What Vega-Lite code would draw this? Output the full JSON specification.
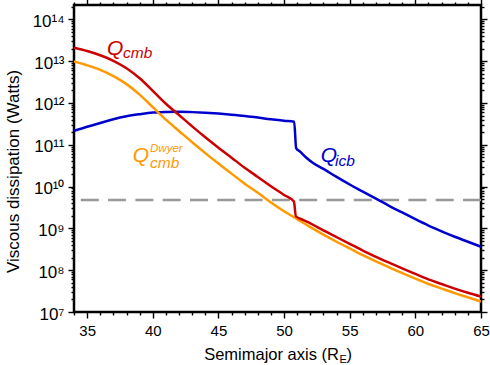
{
  "$schema": "https://vega.github.io/schema/vega-lite/v6.json",
  "width": 407,
  "height": 307,
  "autosize": {"type": "none"},
  "padding": {"left": 74, "top": 5, "right": 9, "bottom": 53},
  "background": "white",
  "config": {
    "view": {"stroke": "black", "strokeWidth": 2.5},
    "font": "Liberation Sans",
    "axis": {
      "domain": false, "grid": false, "tickColor": "black", "tickWidth": 1.4,
      "labelColor": "black", "labelFont": "Liberation Sans", "labelOverlap": false,
      "labelFlush": false, "labelBound": false, "titleFont": "Liberation Sans",
      "titleColor": "black", "titleFontWeight": "normal"
    }
  },
  "datasets": {
    "curves": [
      {"s": "icb", "a": 34, "q": 2.14e11}, {"s": "icb", "a": 35, "q": 2.69e11}, {"s": "icb", "a": 36, "q": 3.31e11},
      {"s": "icb", "a": 37, "q": 4.07e11}, {"s": "icb", "a": 38, "q": 4.79e11}, {"s": "icb", "a": 39, "q": 5.37e11},
      {"s": "icb", "a": 40, "q": 5.89e11}, {"s": "icb", "a": 41, "q": 6.10e11}, {"s": "icb", "a": 42, "q": 6.17e11},
      {"s": "icb", "a": 43, "q": 6.03e11}, {"s": "icb", "a": 44, "q": 5.82e11}, {"s": "icb", "a": 45, "q": 5.56e11},
      {"s": "icb", "a": 46, "q": 5.25e11}, {"s": "icb", "a": 47, "q": 4.90e11}, {"s": "icb", "a": 48, "q": 4.47e11},
      {"s": "icb", "a": 49, "q": 4.07e11}, {"s": "icb", "a": 50, "q": 3.76e11}, {"s": "icb", "a": 50.77, "q": 3.55e11},
      {"s": "icb", "a": 50.92, "q": 8.32e10}, {"s": "icb", "a": 51.22, "q": 6.84e10}, {"s": "icb", "a": 51.7, "q": 4.90e10},
      {"s": "icb", "a": 52.24, "q": 3.61e10}, {"s": "icb", "a": 53, "q": 2.65e10}, {"s": "icb", "a": 54, "q": 1.70e10},
      {"s": "icb", "a": 55, "q": 1.12e10}, {"s": "icb", "a": 56, "q": 7.59e9}, {"s": "icb", "a": 57, "q": 5.13e9},
      {"s": "icb", "a": 58, "q": 3.47e9}, {"s": "icb", "a": 59, "q": 2.40e9}, {"s": "icb", "a": 60, "q": 1.66e9},
      {"s": "icb", "a": 61, "q": 1.17e9}, {"s": "icb", "a": 62, "q": 8.51e8}, {"s": "icb", "a": 63, "q": 6.31e8},
      {"s": "icb", "a": 64, "q": 4.79e8}, {"s": "icb", "a": 65, "q": 3.63e8},

      {"s": "dwyer", "a": 34, "q": 9.77e12}, {"s": "dwyer", "a": 35, "q": 7.94e12}, {"s": "dwyer", "a": 36, "q": 6.17e12},
      {"s": "dwyer", "a": 37, "q": 4.37e12}, {"s": "dwyer", "a": 38, "q": 2.82e12}, {"s": "dwyer", "a": 39, "q": 1.58e12},
      {"s": "dwyer", "a": 40, "q": 7.94e11}, {"s": "dwyer", "a": 41, "q": 3.98e11}, {"s": "dwyer", "a": 42, "q": 2.14e11},
      {"s": "dwyer", "a": 43, "q": 1.15e11}, {"s": "dwyer", "a": 44, "q": 6.31e10}, {"s": "dwyer", "a": 45, "q": 3.55e10},
      {"s": "dwyer", "a": 46, "q": 2.04e10}, {"s": "dwyer", "a": 47, "q": 1.17e10}, {"s": "dwyer", "a": 48, "q": 7.08e9},
      {"s": "dwyer", "a": 49, "q": 4.17e9}, {"s": "dwyer", "a": 50, "q": 2.57e9}, {"s": "dwyer", "a": 51, "q": 1.66e9},
      {"s": "dwyer", "a": 52, "q": 1.07e9}, {"s": "dwyer", "a": 53, "q": 7.08e8}, {"s": "dwyer", "a": 54, "q": 4.79e8},
      {"s": "dwyer", "a": 55, "q": 3.31e8}, {"s": "dwyer", "a": 56, "q": 2.29e8}, {"s": "dwyer", "a": 57, "q": 1.62e8},
      {"s": "dwyer", "a": 58, "q": 1.17e8}, {"s": "dwyer", "a": 59, "q": 8.51e7}, {"s": "dwyer", "a": 60, "q": 6.31e7},
      {"s": "dwyer", "a": 61, "q": 4.68e7}, {"s": "dwyer", "a": 62, "q": 3.63e7}, {"s": "dwyer", "a": 63, "q": 2.82e7},
      {"s": "dwyer", "a": 64, "q": 2.24e7}, {"s": "dwyer", "a": 65, "q": 1.78e7},

      {"s": "cmb", "a": 34, "q": 2.09e13}, {"s": "cmb", "a": 35, "q": 1.74e13}, {"s": "cmb", "a": 36, "q": 1.38e13},
      {"s": "cmb", "a": 37, "q": 1.02e13}, {"s": "cmb", "a": 38, "q": 6.76e12}, {"s": "cmb", "a": 39, "q": 3.89e12},
      {"s": "cmb", "a": 40, "q": 1.95e12}, {"s": "cmb", "a": 41, "q": 9.55e11}, {"s": "cmb", "a": 42, "q": 5.13e11},
      {"s": "cmb", "a": 43, "q": 2.75e11}, {"s": "cmb", "a": 44, "q": 1.51e11}, {"s": "cmb", "a": 45, "q": 8.51e10},
      {"s": "cmb", "a": 46, "q": 4.90e10}, {"s": "cmb", "a": 47, "q": 2.82e10}, {"s": "cmb", "a": 48, "q": 1.70e10},
      {"s": "cmb", "a": 49, "q": 1.02e10}, {"s": "cmb", "a": 50, "q": 6.31e9}, {"s": "cmb", "a": 50.75, "q": 4.37e9},
      {"s": "cmb", "a": 50.9, "q": 1.95e9}, {"s": "cmb", "a": 51.4, "q": 1.62e9}, {"s": "cmb", "a": 52, "q": 1.32e9},
      {"s": "cmb", "a": 53, "q": 8.91e8},
      {"s": "cmb", "a": 54, "q": 6.17e8}, {"s": "cmb", "a": 55, "q": 4.27e8}, {"s": "cmb", "a": 56, "q": 2.95e8},
      {"s": "cmb", "a": 57, "q": 2.09e8}, {"s": "cmb", "a": 58, "q": 1.51e8}, {"s": "cmb", "a": 59, "q": 1.10e8},
      {"s": "cmb", "a": 60, "q": 8.13e7}, {"s": "cmb", "a": 61, "q": 6.03e7}, {"s": "cmb", "a": 62, "q": 4.68e7},
      {"s": "cmb", "a": 63, "q": 3.63e7}, {"s": "cmb", "a": 64, "q": 2.88e7}, {"s": "cmb", "a": 65, "q": 2.34e7}
    ]
  },
  "resolve": {"axis": {"x": "independent", "y": "independent"}},
  "layer": [
    {
      "data": {"values": [{"level": 4.8e9}]},
      "mark": {"type": "rule", "color": "#999999", "strokeWidth": 2.5, "strokeDash": [18, 9.3]},
      "encoding": {
        "y": {"field": "level", "type": "quantitative", "scale": {"type": "log", "domain": [1e7, 2.2e14], "nice": false}, "axis": null}
      }
    },
    {
      "data": {"name": "curves"},
      "transform": [{"filter": "datum.s === 'icb'"}],
      "mark": {"type": "line", "strokeWidth": 2.5, "clip": true, "interpolate": "monotone"},
      "encoding": {
        "x": {"field": "a", "type": "quantitative", "scale": {"domain": [34, 65], "nice": false, "zero": false},
          "axis": {"orient": "top", "labels": false, "title": null,
            "values": [34,35,36,37,38,39,40,41,42,43,44,45,46,47,48,49,50,51,52,53,54,55,56,57,58,59,60,61,62,63,64,65],
            "tickSize": {"condition": {"test": "datum.value % 5 === 0", "value": 6}, "value": 3}}},
        "y": {"field": "q", "type": "quantitative", "scale": {"type": "log", "domain": [1e7, 2.2e14], "nice": false},
          "axis": {"orient": "right", "labels": false, "title": null,
            "values": [1e7,2e7,3e7,4e7,5e7,6e7,7e7,8e7,9e7,1e8,2e8,3e8,4e8,5e8,6e8,7e8,8e8,9e8,1e9,2e9,3e9,4e9,5e9,6e9,7e9,8e9,9e9,1e10,2e10,3e10,4e10,5e10,6e10,7e10,8e10,9e10,1e11,2e11,3e11,4e11,5e11,6e11,7e11,8e11,9e11,1e12,2e12,3e12,4e12,5e12,6e12,7e12,8e12,9e12,1e13,2e13,3e13,4e13,5e13,6e13,7e13,8e13,9e13,1e14,2e14],
            "tickSize": {"condition": {"test": "abs(log(datum.value)/LN10 - round(log(datum.value)/LN10)) < 0.001", "value": 6}, "value": 3}}},
        "color": {"field": "s", "type": "nominal", "scale": {"domain": ["cmb", "dwyer", "icb"], "range": ["#cc0000", "#ff9900", "#0000cc"]}, "legend": null}
      }
    },
    {
      "data": {"name": "curves"},
      "transform": [{"filter": "datum.s === 'dwyer'"}],
      "mark": {"type": "line", "strokeWidth": 2.5, "clip": true, "interpolate": "monotone"},
      "encoding": {
        "x": {"field": "a", "type": "quantitative", "scale": {"domain": [34, 65], "nice": false, "zero": false},
          "axis": {"orient": "bottom", "title": null, "labelFontSize": 15, "labelPadding": 5,
            "values": [34,35,36,37,38,39,40,41,42,43,44,45,46,47,48,49,50,51,52,53,54,55,56,57,58,59,60,61,62,63,64,65],
            "labelExpr": "datum.value % 5 === 0 ? datum.label : ''",
            "tickSize": {"condition": {"test": "datum.value % 5 === 0", "value": 6}, "value": 3}}},
        "y": {"field": "q", "type": "quantitative", "scale": {"type": "log", "domain": [1e7, 2.2e14], "nice": false},
          "axis": {"orient": "left", "title": "Viscous dissipation (Watts)", "titleFontSize": 17,
            "titleX": -56, "titleY": 166, "titleAngle": -90, "titleAlign": "center", "titleBaseline": "alphabetic",
            "labelFontSize": 17, "labelPadding": 4, "labelOffset": 2,
            "values": [1e7,2e7,3e7,4e7,5e7,6e7,7e7,8e7,9e7,1e8,2e8,3e8,4e8,5e8,6e8,7e8,8e8,9e8,1e9,2e9,3e9,4e9,5e9,6e9,7e9,8e9,9e9,1e10,2e10,3e10,4e10,5e10,6e10,7e10,8e10,9e10,1e11,2e11,3e11,4e11,5e11,6e11,7e11,8e11,9e11,1e12,2e12,3e12,4e12,5e12,6e12,7e12,8e12,9e12,1e13,2e13,3e13,4e13,5e13,6e13,7e13,8e13,9e13,1e14,2e14],
            "labelExpr": "abs(log(datum.value)/LN10 - round(log(datum.value)/LN10)) < 0.001 ? ['10⁷','10⁸','10⁹','10¹⁰','10¹¹','10¹²','10¹³','10¹⁴'][round(log(datum.value)/LN10) - 7] : ''",
            "tickSize": {"condition": {"test": "abs(log(datum.value)/LN10 - round(log(datum.value)/LN10)) < 0.001", "value": 6}, "value": 3}}},
        "color": {"field": "s", "type": "nominal", "legend": null}
      }
    },
    {
      "data": {"name": "curves"},
      "transform": [{"filter": "datum.s === 'cmb'"}],
      "mark": {"type": "line", "strokeWidth": 2.5, "clip": true, "interpolate": "monotone"},
      "encoding": {
        "x": {"field": "a", "type": "quantitative", "scale": {"domain": [34, 65], "nice": false, "zero": false}, "axis": null},
        "y": {"field": "q", "type": "quantitative", "scale": {"type": "log", "domain": [1e7, 2.2e14], "nice": false}, "axis": null},
        "color": {"field": "s", "type": "nominal", "legend": null}
      }
    },
    {
      "data": {"values": [
        {"s": "cmb", "t": "Q", "a": 36.51, "q": 1.39e13},
        {"s": "icb", "t": "Q", "a": 52.79, "q": 3.92e10},
        {"s": "dwyer", "t": "Q", "a": 38.47, "q": 3.92e10}
      ]},
      "mark": {"type": "text", "align": "left", "baseline": "alphabetic", "fontSize": 21, "fontStyle": "italic", "font": "Liberation Sans"},
      "encoding": {
        "x": {"field": "a", "type": "quantitative", "scale": {"domain": [34, 65], "nice": false, "zero": false}, "axis": null},
        "y": {"field": "q", "type": "quantitative", "scale": {"type": "log", "domain": [1e7, 2.2e14], "nice": false}, "axis": null},
        "text": {"field": "t"},
        "color": {"field": "s", "type": "nominal", "legend": null}
      }
    },
    {
      "data": {"values": [
        {"s": "cmb", "t": "cmb", "a": 37.73, "q": 1.18e13},
        {"s": "icb", "t": "icb", "a": 53.88, "q": 3.14e10},
        {"s": "dwyer", "t": "cmb", "a": 39.79, "q": 2.85e10}
      ]},
      "mark": {"type": "text", "align": "left", "baseline": "alphabetic", "fontSize": 15.5, "fontStyle": "italic", "font": "Liberation Sans"},
      "encoding": {
        "x": {"field": "a", "type": "quantitative", "scale": {"domain": [34, 65], "nice": false, "zero": false}, "axis": null},
        "y": {"field": "q", "type": "quantitative", "scale": {"type": "log", "domain": [1e7, 2.2e14], "nice": false}, "axis": null},
        "text": {"field": "t"},
        "color": {"field": "s", "type": "nominal", "legend": null}
      }
    },
    {
      "data": {"values": [
        {"s": "dwyer", "t": "Dwyer", "a": 39.79, "q": 6.8e10}
      ]},
      "mark": {"type": "text", "align": "left", "baseline": "alphabetic", "fontSize": 11.5, "fontStyle": "italic", "font": "Liberation Sans"},
      "encoding": {
        "x": {"field": "a", "type": "quantitative", "scale": {"domain": [34, 65], "nice": false, "zero": false}, "axis": null},
        "y": {"field": "q", "type": "quantitative", "scale": {"type": "log", "domain": [1e7, 2.2e14], "nice": false}, "axis": null},
        "text": {"field": "t"},
        "color": {"field": "s", "type": "nominal", "legend": null}
      }
    },
    {
      "data": {"values": [
        {"t": "Semimajor axis (R", "a": 54.18, "q": 7.12e5}
      ]},
      "mark": {"type": "text", "align": "right", "baseline": "alphabetic", "fontSize": 16.5, "color": "black", "font": "Liberation Sans"},
      "encoding": {
        "x": {"field": "a", "type": "quantitative", "scale": {"domain": [34, 65], "nice": false, "zero": false}, "axis": null},
        "y": {"field": "q", "type": "quantitative", "scale": {"type": "log", "domain": [1e7, 2.2e14], "nice": false}, "axis": null},
        "text": {"field": "t"}
      }
    },
    {
      "data": {"values": [
        {"t": "E", "a": 54.22, "q": 6.04e5}
      ]},
      "mark": {"type": "text", "align": "left", "baseline": "alphabetic", "fontSize": 11, "color": "black", "font": "Liberation Sans"},
      "encoding": {
        "x": {"field": "a", "type": "quantitative", "scale": {"domain": [34, 65], "nice": false, "zero": false}, "axis": null},
        "y": {"field": "q", "type": "quantitative", "scale": {"type": "log", "domain": [1e7, 2.2e14], "nice": false}, "axis": null},
        "text": {"field": "t"}
      }
    },
    {
      "data": {"values": [
        {"t": ")", "a": 54.75, "q": 7.12e5}
      ]},
      "mark": {"type": "text", "align": "left", "baseline": "alphabetic", "fontSize": 16.5, "color": "black", "font": "Liberation Sans"},
      "encoding": {
        "x": {"field": "a", "type": "quantitative", "scale": {"domain": [34, 65], "nice": false, "zero": false}, "axis": null},
        "y": {"field": "q", "type": "quantitative", "scale": {"type": "log", "domain": [1e7, 2.2e14], "nice": false}, "axis": null},
        "text": {"field": "t"}
      }
    }
  ]
}
